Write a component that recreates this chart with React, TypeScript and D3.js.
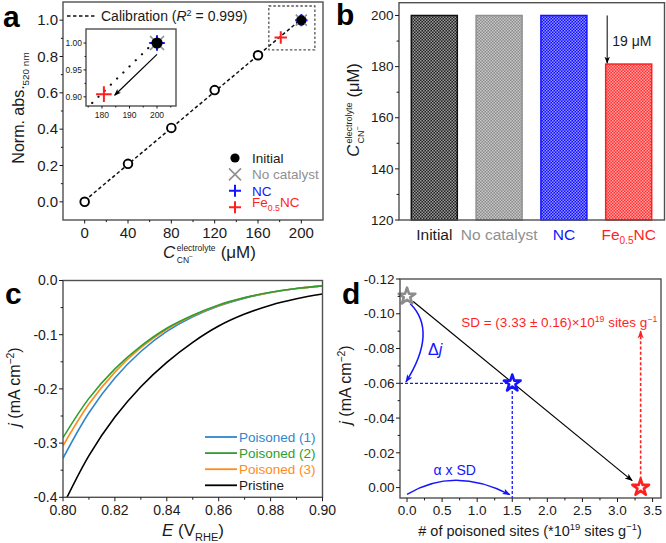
import React, { useEffect, useRef } from "react";
import * as d3 from "d3";

const width = 666;
const height = 543;
const font = "'Liberation Sans', Arial, Helvetica, sans-serif";
const ink = "#1a1a1a";
const frameColor = "#505050";

// a: cyanide calibration
const calibConc = [0, 40, 80, 120, 160, 200];
const calibAbs = [0, 0.209, 0.407, 0.615, 0.807, 1.0];
const aXTicks = [0, 40, 80, 120, 160, 200];
const aYTicks = [0, 0.2, 0.4, 0.6, 0.8, 1.0];
const insetXTicks = [180, 190, 200];
const insetYTicks = [0.9, 0.95, 1.0];

// samples after poisoning (markers in a, bars in b)
const samples = ["Initial", "No catalyst", "NC", "Fe0.5NC"];
const sampleColors = ["#000000", "#909090", "#1414ff", "#ff1f1f"];
const barBase = ["#222222", "#8a8a8a", "#1010ff", "#ff3030"];
const sampleMarkers = ["circle", "x", "plus", "plus"];
const sampleConc = [200, 200, 200, 181];
const sampleAbs = [1.0, 1.0, 1.0, 0.905];
const bYTicks = [120, 140, 160, 180, 200];

// c: LSV curves
const potential = [0.8, 0.81, 0.82, 0.83, 0.84, 0.85, 0.86, 0.87, 0.88, 0.89, 0.9];
const poisoned1 = [-0.328, -0.244, -0.18, -0.131, -0.094, -0.067, -0.047, -0.0325, -0.0222, -0.0149, -0.0099];
const poisoned2 = [-0.29, -0.2175, -0.163, -0.121, -0.088, -0.064, -0.045, -0.0316, -0.0218, -0.0148, -0.0099];
const poisoned3 = [-0.305, -0.228, -0.169, -0.124, -0.09, -0.065, -0.046, -0.032, -0.022, -0.0148, -0.0099];
const pristine = [-0.415, -0.323, -0.252, -0.196, -0.151, -0.114, -0.084, -0.062, -0.0455, -0.0337, -0.025];
const lsvNames = ["Poisoned (1)", "Poisoned (2)", "Poisoned (3)", "Pristine"];
const lsvColors = ["#2f86cc", "#2e9e2e", "#ff8c1a", "#000000"];
const cXTicks = [0.8, 0.82, 0.84, 0.86, 0.88, 0.9];
const cYTicks = [-0.4, -0.3, -0.2, -0.1, 0];

// d: site density
const sites = [0, 1.5, 3.33];
const siteCurrent = [-0.11, -0.06, 0];
const siteColors = ["#8c8c8c", "#1414ff", "#ff1f1f"];
const dXTicks = [0, 0.5, 1, 1.5, 2, 2.5, 3, 3.5];
const dYTicks = [-0.12, -0.1, -0.08, -0.06, -0.04, -0.02, 0];

type Part = { t: string; sub?: boolean; sup?: boolean; it?: boolean };

const mids = (a: number[]) => a.slice(1).map((v, i) => (v + a[i]) / 2);

function rich(text: any, parts: Part[], fs: number, k = 0.65) {
  let shift = 0;
  parts.forEach((p) => {
    const target = p.sub ? fs * 0.3 : p.sup ? -fs * 0.38 : 0;
    const ts = text.append("tspan").attr("dy", target - shift).text(p.t);
    if (p.sub || p.sup) ts.attr("font-size", fs * k);
    if (p.it) ts.attr("font-style", "italic");
    shift = target;
  });
  return text;
}

function box(g: any, x0: number, y0: number, x1: number, y1: number) {
  g.append("rect")
    .attr("x", x0).attr("y", y0).attr("width", x1 - x0).attr("height", y1 - y0)
    .attr("fill", "none").attr("stroke", frameColor).attr("stroke-width", 1.4);
}

function yAxis(g: any, y: any, x0: number, major: number[], fmt: any, fs: number, minor = mids(major), len = 4) {
  g.append("g").attr("stroke", ink).attr("stroke-width", 1)
    .selectAll("line")
    .data([...major.map((v) => [v, len]), ...minor.map((v) => [v, len * 0.6])])
    .join("line")
    .attr("x1", x0).attr("x2", (d: number[]) => x0 - d[1])
    .attr("y1", (d: number[]) => y(d[0])).attr("y2", (d: number[]) => y(d[0]));
  g.append("g").attr("font-size", fs).attr("text-anchor", "end").attr("fill", ink)
    .selectAll("text").data(major).join("text")
    .attr("x", x0 - len - 1.5).attr("y", (d: number) => y(d)).attr("dy", "0.35em")
    .text(fmt);
}

function xAxis(g: any, x: any, y0: number, major: number[], fmt: any, fs: number, minor = mids(major), len = 4) {
  g.append("g").attr("stroke", ink).attr("stroke-width", 1)
    .selectAll("line")
    .data([...major.map((v) => [v, len]), ...minor.map((v) => [v, len * 0.6])])
    .join("line")
    .attr("y1", y0).attr("y2", (d: number[]) => y0 + d[1])
    .attr("x1", (d: number[]) => x(d[0])).attr("x2", (d: number[]) => x(d[0]));
  g.append("g").attr("font-size", fs).attr("text-anchor", "middle").attr("fill", ink)
    .selectAll("text").data(major).join("text")
    .attr("x", (d: number) => x(d)).attr("y", y0 + len + 3 + fs * 0.75)
    .text(fmt);
}

// C^electrolyte_CN- (uM), drawn from the origin, returns its width
function concLabel(g: any, fs: number, sfs: number) {
  const c = g.append("text").attr("font-size", fs).attr("font-style", "italic").text("C");
  const cw = c.node().getComputedTextLength() + 1.5;
  const sup = g.append("text").attr("x", cw).attr("y", -fs * 0.42).attr("font-size", sfs).text("electrolyte");
  const sub = g.append("text").attr("x", cw).attr("y", fs * 0.3).attr("font-size", sfs).text("CN");
  sub.append("tspan").attr("dy", -sfs * 0.45).attr("font-size", sfs * 0.8).text("−");
  const sw = sup.node().getComputedTextLength();
  const unit = g.append("text").attr("x", cw + sw + fs * 0.3).attr("font-size", fs).text("(μM)");
  return cw + sw + fs * 0.3 + unit.node().getComputedTextLength();
}

function marker(g: any, kind: string, cx: number, cy: number, s: number, color: string) {
  if (kind === "circle") {
    g.append("circle").attr("cx", cx).attr("cy", cy).attr("r", s).attr("fill", color);
  } else if (kind === "x") {
    g.append("path")
      .attr("d", `M${cx - s},${cy - s}L${cx + s},${cy + s}M${cx - s},${cy + s}L${cx + s},${cy - s}`)
      .attr("stroke", color).attr("stroke-width", 1.6).attr("fill", "none");
  } else {
    g.append("path")
      .attr("d", `M${cx - s},${cy}L${cx + s},${cy}M${cx},${cy - s}L${cx},${cy + s}`)
      .attr("stroke", color).attr("stroke-width", 2).attr("fill", "none");
  }
}

function panelLabel(svg: any, x: number, y: number, t: string) {
  svg.append("text").attr("x", x).attr("y", y).attr("font-size", 30).attr("font-weight", "bold").attr("fill", "#000").text(t);
}

const App = () => {
  const ref = useRef<SVGSVGElement>(null);

  const chart = () => {
    const svg = d3.select(ref.current as SVGSVGElement);
    svg.selectAll("*").remove();
    svg
      .attr("width", width)
      .attr("height", height)
      .attr("viewBox", [0, 0, width, height] as any)
      .attr("font-family", font)
      .attr("style", "position:absolute;left:0;top:0;background:#fff");

    const defs = svg.append("defs");
    const head = (id: string, color: string, size = 8) =>
      defs.append("marker").attr("id", id).attr("viewBox", "0 0 10 10")
        .attr("refX", 9).attr("refY", 5).attr("markerWidth", size).attr("markerHeight", size)
        .attr("markerUnits", "userSpaceOnUse").attr("orient", "auto")
        .append("path").attr("d", "M0,1.2 L10,5 L0,8.8 L2.5,5 Z").attr("fill", color);
    head("arrBlack", "#000");
    head("arrBlue", "#1414ff");
    head("arrRed", "#ff1f1f");
    head("arrSmall", "#000", 7);

    barBase.forEach((c, i) => {
      const p = defs.append("pattern").attr("id", `hatch${i}`).attr("width", 3).attr("height", 3)
        .attr("patternUnits", "userSpaceOnUse");
      p.append("rect").attr("width", 3).attr("height", 3).attr("fill", c);
      p.append("rect").attr("width", 1.5).attr("height", 1.5).attr("fill", "#fff").attr("fill-opacity", 0.55);
      p.append("rect").attr("x", 1.5).attr("y", 1.5).attr("width", 1.5).attr("height", 1.5)
        .attr("fill", "#fff").attr("fill-opacity", 0.55);
    });

    // least-squares calibration line
    const mx = d3.mean(calibConc) as number;
    const my = d3.mean(calibAbs) as number;
    const slope =
      d3.sum(calibConc.map((c, i) => (c - mx) * (calibAbs[i] - my))) /
      d3.sum(calibConc.map((c) => (c - mx) ** 2));
    const icpt = my - slope * mx;
    const fit = (c: number) => slope * c + icpt;

    // ---------------- panel a ----------------
    const gA = svg.append("g");
    const xA = d3.scaleLinear().domain([-20, 220]).range([63, 323]);
    const yA = d3.scaleLinear().domain([-0.1, 1.1]).range([220, 2]);

    gA.append("path")
      .attr("d", d3.line()([[xA(0), yA(fit(0))], [xA(200), yA(fit(200))]]) as string)
      .attr("stroke", "#111").attr("stroke-width", 1.5).attr("stroke-dasharray", "3.5,2.5").attr("fill", "none");
    gA.selectAll("circle.cal").data(calibConc).join("circle")
      .attr("cx", (d) => xA(d)).attr("cy", (d, i) => yA(calibAbs[i])).attr("r", 4.3)
      .attr("fill", "#fff").attr("stroke", "#000").attr("stroke-width", 1.9);
    [1, 2, 0, 3].forEach((i) =>
      marker(gA, sampleMarkers[i], xA(sampleConc[i]), yA(sampleAbs[i]), i === 0 ? 4.6 : i === 1 ? 5.5 : 6.2, sampleColors[i])
    );
    // zoom box
    gA.append("rect")
      .attr("x", xA(170)).attr("y", yA(1.078)).attr("width", xA(212.5) - xA(170)).attr("height", yA(0.836) - yA(1.078))
      .attr("fill", "none").attr("stroke", "#555").attr("stroke-width", 1.3).attr("stroke-dasharray", "2.5,2");

    box(gA, 63, 2, 323, 220);
    yAxis(gA, yA, 63, aYTicks, (d: number) => d.toFixed(1), 15, mids(aYTicks), 3.5);
    xAxis(gA, xA, 220, aXTicks, (d: number) => `${d}`, 15, mids(aXTicks), 3.5);

    // calibration legend
    gA.append("line").attr("x1", 67).attr("x2", 97).attr("y1", 16).attr("y2", 16)
      .attr("stroke", "#111").attr("stroke-width", 1.5).attr("stroke-dasharray", "3.5,2.5");
    rich(gA.append("text").attr("x", 101).attr("y", 21).attr("font-size", 14).attr("fill", ink),
      [{ t: "Calibration (" }, { t: "R", it: true }, { t: "2", sup: true }, { t: " = 0.999)" }], 14);

    // sample legend
    const legA = gA.append("g");
    samples.forEach((s, i) => {
      const cy = 158 + i * 16.4;
      marker(legA, sampleMarkers[i], 235, cy, i === 0 ? 4.6 : 6, sampleColors[i]);
      const t = legA.append("text").attr("x", 252).attr("y", cy).attr("dy", "0.36em")
        .attr("font-size", 13.5).attr("fill", sampleColors[i] === "#000000" ? ink : sampleColors[i]);
      if (s === "Fe0.5NC") rich(t, [{ t: "Fe" }, { t: "0.5", sub: true }, { t: "NC" }], 13.5);
      else t.text(s);
    });

    // inset
    const gI = gA.append("g");
    const xI = d3.scaleLinear().domain([174.2, 206.9]).range([86, 176]);
    const yI = d3.scaleLinear().domain([0.883, 1.026]).range([106, 29]);
    gI.append("rect").attr("x", 86).attr("y", 29).attr("width", 90).attr("height", 77).attr("fill", "#fff");
    gI.append("clipPath").attr("id", "insetClip").append("rect")
      .attr("x", 86).attr("y", 29).attr("width", 90).attr("height", 77);
    gI.append("path")
      .attr("clip-path", "url(#insetClip)")
      .attr("d", d3.line()([[xI(174.2), yI(fit(174.2))], [xI(200), yI(fit(200))]]) as string)
      .attr("stroke", "#111").attr("stroke-width", 2.2).attr("stroke-linecap", "round")
      .attr("stroke-dasharray", "0.1,8.6").attr("fill", "none");
    gI.append("line")
      .attr("x1", xI(200)).attr("y1", yI(0.979)).attr("x2", xI(184.6)).attr("y2", yI(0.903))
      .attr("stroke", "#000").attr("stroke-width", 1.2).attr("marker-end", "url(#arrSmall)");
    [1, 2, 0, 3].forEach((i) =>
      marker(gI, sampleMarkers[i], xI(sampleConc[i] === 181 ? 180.7 : sampleConc[i]), yI(sampleAbs[i]),
        i === 0 ? 5.6 : i === 1 ? 7 : 7.8, sampleColors[i])
    );
    box(gI, 86, 29, 176, 106);
    yAxis(gI, yI, 86, insetYTicks, (d: number) => d.toFixed(2), 8.5, mids(insetYTicks), 2.5);
    xAxis(gI, xI, 106, insetXTicks, (d: number) => `${d}`, 8.5, [175, 185, 195, 205], 2.5);

    // axis titles
    rich(
      gA.append("text").attr("transform", "translate(24,108) rotate(-90)").attr("text-anchor", "middle")
        .attr("font-size", 16).attr("fill", ink),
      [{ t: "Norm. abs." }, { t: "520 nm", sub: true }], 16, 0.62
    );
    concLabel(gA.append("g").attr("transform", "translate(163,258)").attr("fill", ink), 17, 8.5);

    // ---------------- panel b ----------------
    const gB = svg.append("g");
    const xB = d3.scaleBand().domain(samples).range([399, 664]).paddingInner(0.29).paddingOuter(0.19);
    const yB = d3.scaleLinear().domain([120, 205]).range([220, 2.7]);

    gB.selectAll("rect.bar").data(samples).join("rect")
      .attr("x", (d) => xB(d) as number).attr("width", xB.bandwidth())
      .attr("y", (d, i) => yB(sampleConc[i])).attr("height", (d, i) => yB(120) - yB(sampleConc[i]))
      .attr("fill", (d, i) => `url(#hatch${i})`)
      .attr("stroke", (d, i) => (i === 0 ? "#111" : sampleColors[i])).attr("stroke-width", 1.5);

    const feX = (xB("Fe0.5NC") as number) + 1.5;
    gB.append("line").attr("x1", feX).attr("x2", feX)
      .attr("y1", yB(sampleConc[0])).attr("y2", yB(sampleConc[3]) - 1)
      .attr("stroke", "#000").attr("stroke-width", 1).attr("marker-end", "url(#arrSmall)");
    gB.append("text").attr("x", feX + 5).attr("y", 46).attr("font-size", 14).attr("fill", ink)
      .text(`${sampleConc[0] - sampleConc[3]} μM`);

    box(gB, 399, 2.7, 664.5, 220);
    yAxis(gB, yB, 399, bYTicks, (d: number) => `${d}`, 13.5, mids(bYTicks), 4);

    samples.forEach((s, i) => {
      const t = gB.append("text").attr("x", (xB(s) as number) + xB.bandwidth() / 2).attr("y", 239.5)
        .attr("text-anchor", "middle").attr("font-size", 15.5).attr("fill", sampleColors[i] === "#000000" ? ink : sampleColors[i]);
      if (s === "Fe0.5NC") rich(t, [{ t: "Fe" }, { t: "0.5", sub: true }, { t: "NC" }], 15.5);
      else t.text(s);
    });

    const bLab = gB.append("g").attr("fill", ink);
    const bw = concLabel(bLab, 16.5, 9);
    bLab.attr("transform", `translate(359,${110 + bw / 2}) rotate(-90)`);

    // ---------------- panel c ----------------
    const gC = svg.append("g");
    const xC = d3.scaleLinear().domain([0.8, 0.9]).range([63, 322.5]);
    const yC = d3.scaleLinear().domain([-0.4, 0]).range([497.3, 280.5]);
    gC.append("clipPath").attr("id", "lsvClip").append("rect")
      .attr("x", 63).attr("y", 280.5).attr("width", 322.5 - 63).attr("height", 497.3 - 280.5);
    const series = [poisoned1, poisoned2, poisoned3, pristine];
    const line = d3.line<number>()
      .x((d, i) => xC(potential[i]))
      .y((d) => yC(d))
      .curve(d3.curveCatmullRom.alpha(0.5));
    [3, 0, 2, 1].forEach((k) => {
      gC.append("path").attr("clip-path", "url(#lsvClip)")
        .attr("d", line(series[k]) as string)
        .attr("fill", "none").attr("stroke", lsvColors[k]).attr("stroke-width", 1.6);
    });
    box(gC, 63, 280.5, 322.5, 497.3);
    yAxis(gC, yC, 63, cYTicks, (d: number) => d.toFixed(1), 14, mids(cYTicks), 4);
    xAxis(gC, xC, 497.3, cXTicks, (d: number) => d.toFixed(2), 14, mids(cXTicks), 4);

    lsvNames.forEach((n, i) => {
      const cy = 437 + i * 16.1;
      gC.append("line").attr("x1", 205).attr("x2", 237).attr("y1", cy).attr("y2", cy)
        .attr("stroke", lsvColors[i]).attr("stroke-width", 1.8);
      gC.append("text").attr("x", 239).attr("y", cy).attr("dy", "0.36em").attr("font-size", 13.5)
        .attr("fill", i === 3 ? ink : lsvColors[i]).text(n);
    });

    rich(
      gC.append("text").attr("transform", "translate(20,387) rotate(-90)").attr("text-anchor", "middle")
        .attr("font-size", 16).attr("fill", ink),
      [{ t: "j", it: true }, { t: " (mA cm" }, { t: "−2", sup: true }, { t: ")" }], 16
    );
    rich(
      gC.append("text").attr("x", 193).attr("y", 536).attr("text-anchor", "middle").attr("font-size", 17).attr("fill", ink),
      [{ t: "E", it: true }, { t: " (V" }, { t: "RHE", sub: true }, { t: ")" }], 17
    );

    // ---------------- panel d ----------------
    const gD = svg.append("g");
    const xD = d3.scaleLinear().domain([-0.1, 3.62]).range([400, 661]);
    const yD = d3.scaleLinear().domain([0.006, -0.12]).range([498, 279]);

    // guide lines
    gD.append("path")
      .attr("d", `M${xD(-0.1)},${yD(siteCurrent[1])}H${xD(sites[1])}V${yD(0.006)}`)
      .attr("fill", "none").attr("stroke", "#1414ff").attr("stroke-width", 1.3).attr("stroke-dasharray", "3,2");
    gD.append("line")
      .attr("x1", xD(sites[2])).attr("x2", xD(sites[2]))
      .attr("y1", yD(siteCurrent[2]) - 8).attr("y2", yD(-0.09))
      .attr("stroke", "#ff1f1f").attr("stroke-width", 1.6).attr("stroke-dasharray", "3,2.2")
      .attr("marker-end", "url(#arrRed)");

    // main arrow from first to last star
    const p0 = [xD(sites[0]), yD(siteCurrent[0])];
    const p1 = [xD(sites[2]), yD(siteCurrent[2])];
    const len = Math.hypot(p1[0] - p0[0], p1[1] - p0[1]);
    const ux = (p1[0] - p0[0]) / len;
    const uy = (p1[1] - p0[1]) / len;
    gD.append("line")
      .attr("x1", p0[0] + ux * 8).attr("y1", p0[1] + uy * 8)
      .attr("x2", p1[0] - ux * 11).attr("y2", p1[1] - uy * 11)
      .attr("stroke", "#000").attr("stroke-width", 1.2).attr("marker-end", "url(#arrBlack)");

    // curved annotation arrows
    const q = (a: number[], c: number[], b: number[]) =>
      `M${xD(a[0])},${yD(a[1])}Q${xD(c[0])},${yD(c[1])} ${xD(b[0])},${yD(b[1])}`;
    gD.append("path").attr("d", q([0.047, -0.1058], [0.44, -0.09], [-0.015, -0.0608]))
      .attr("fill", "none").attr("stroke", "#1414ff").attr("stroke-width", 1.5).attr("marker-end", "url(#arrBlue)");
    gD.append("path").attr("d", q([0.0, 0.0039], [0.676, -0.0124], [1.464, 0.0041]))
      .attr("fill", "none").attr("stroke", "#1414ff").attr("stroke-width", 1.5).attr("marker-end", "url(#arrBlue)");

    const star = d3.symbol().type(d3.symbolStar).size(86);
    gD.selectAll("path.star").data(sites).join("path")
      .attr("transform", (d, i) => `translate(${xD(d)},${yD(siteCurrent[i])})`)
      .attr("d", star() as string)
      .attr("fill", "#fff").attr("stroke", (d, i) => siteColors[i]).attr("stroke-width", 2.6)
      .attr("stroke-linejoin", "round");

    rich(
      gD.append("text").attr("x", xD(0.3)).attr("y", yD(-0.076)).attr("font-size", 16).attr("fill", "#1414ff"),
      [{ t: "Δ" }, { t: "j", it: true }], 16
    );
    gD.append("text").attr("x", xD(0.68)).attr("y", yD(-0.0072)).attr("text-anchor", "middle")
      .attr("font-size", 14).attr("fill", "#1414ff").text("α x SD");
    rich(
      gD.append("text").attr("x", xD(2.17)).attr("y", yD(-0.0924)).attr("text-anchor", "middle")
        .attr("font-size", 13.5).attr("fill", "#ff1f1f"),
      [{ t: "SD = (3.33 ± 0.16)×10" }, { t: "19", sup: true }, { t: " sites g" }, { t: "−1", sup: true }], 13.5
    );

    box(gD, 400, 279, 661, 498);
    yAxis(gD, yD, 400, dYTicks, (d: number) => d.toFixed(2), 13.5, mids(dYTicks), 4);
    xAxis(gD, xD, 498, dXTicks, (d: number) => d.toFixed(1), 13.5, mids(dXTicks), 4);

    rich(
      gD.append("text").attr("transform", "translate(351,385) rotate(-90)").attr("text-anchor", "middle")
        .attr("font-size", 16).attr("fill", ink),
      [{ t: "j", it: true }, { t: " (mA cm" }, { t: "−2", sup: true }, { t: ")" }], 16
    );
    rich(
      gD.append("text").attr("x", 530).attr("y", 536).attr("text-anchor", "middle").attr("font-size", 14.5).attr("fill", ink),
      [{ t: "# of poisoned sites (*10" }, { t: "19", sup: true }, { t: " sites g" }, { t: "−1", sup: true }, { t: ")" }], 14.5
    );

    panelLabel(svg, 3, 27, "a");
    panelLabel(svg, 336, 25, "b");
    panelLabel(svg, 5, 304, "c");
    panelLabel(svg, 342, 304, "d");
  };

  useEffect(() => {
    chart();
  }, []);

  return <svg ref={ref} />;
};

export default App;
